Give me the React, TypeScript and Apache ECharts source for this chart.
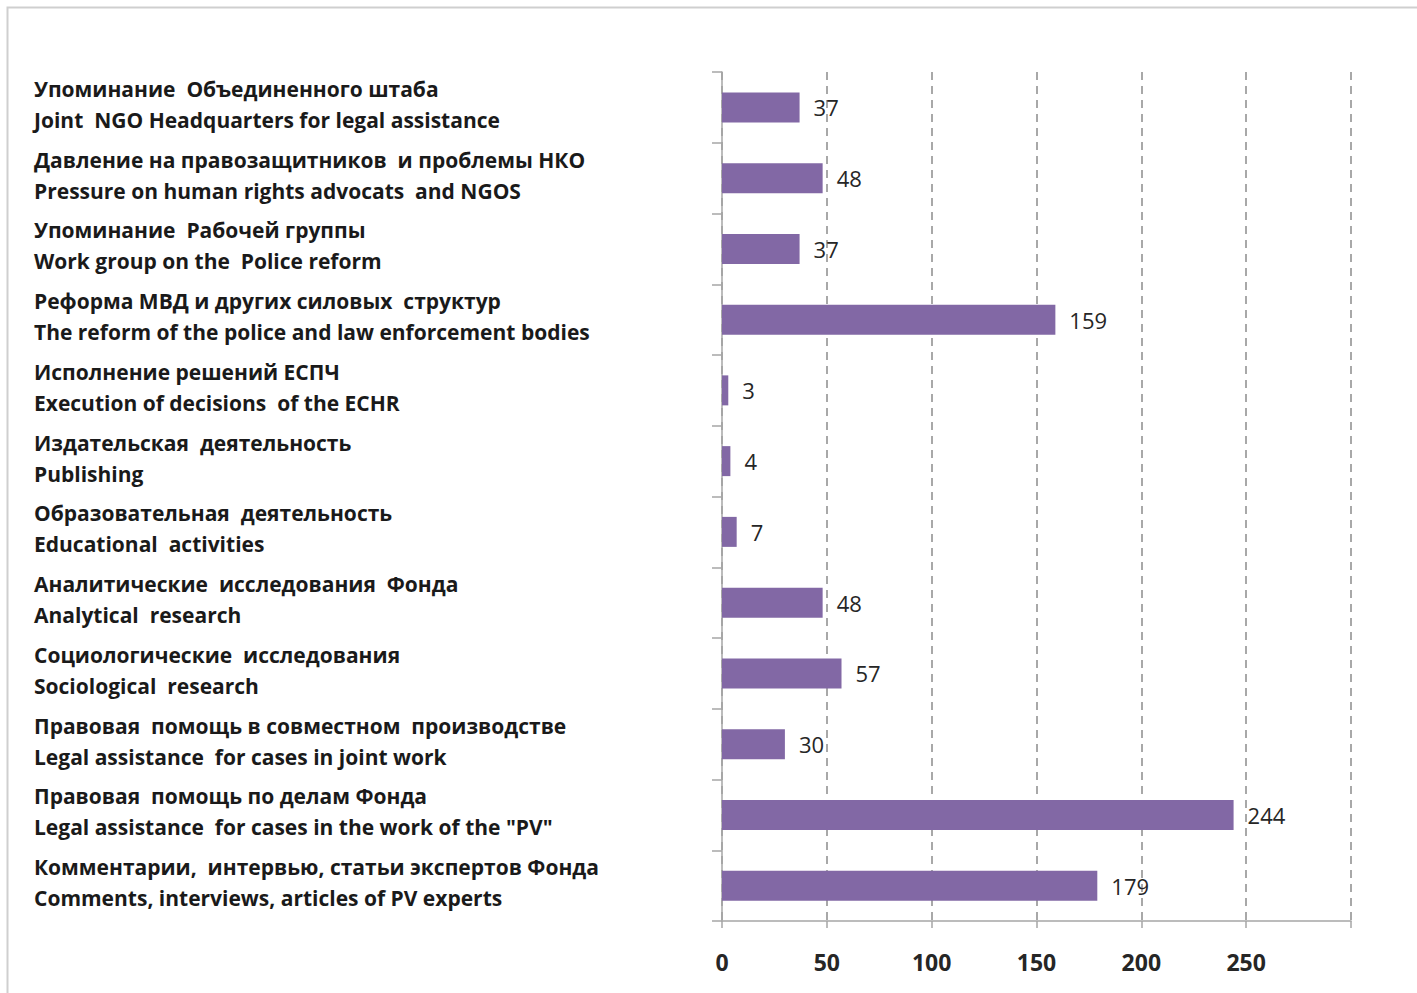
import React, { useEffect, useRef } from "react";
import * as echarts from "echarts";

const categories: string[] = [
  "Упоминание  Объединенного штаба\nJoint  NGO Headquarters for legal assistance",
  "Давление на правозащитников  и проблемы НКО\nPressure on human rights advocats  and NGOS",
  "Упоминание  Рабочей группы\nWork group on the  Police reform",
  "Реформа МВД и других силовых  структур\nThe reform of the police and law enforcement bodies",
  "Исполнение решений ЕСПЧ\nExecution of decisions  of the ECHR",
  "Издательская  деятельность\nPublishing",
  "Образовательная  деятельность\nEducational  activities",
  "Аналитические  исследования  Фонда\nAnalytical  research",
  "Социологические  исследования\nSociological  research",
  "Правовая  помощь в совместном  производстве\nLegal assistance  for cases in joint work",
  "Правовая  помощь по делам Фонда\nLegal assistance  for cases in the work of the \"PV\"",
  "Комментарии,  интервью, статьи экспертов Фонда\nComments, interviews, articles of PV experts",
];

const values: number[] = [37, 48, 37, 159, 3, 4, 7, 48, 57, 30, 244, 179];

const xMin = 0;
const xMax = 300;
const xStep = 50;
const hiddenTickLabels: number[] = [300];

export default function App() {
  const ref = useRef<HTMLDivElement>(null);

  useEffect(() => {
    document.body.style.margin = "0";
    if (!ref.current) return;
    const chart = echarts.init(ref.current, null, { renderer: "svg" });
    const font = "Open Sans";
    chart.setOption({
      animation: false,
      backgroundColor: "#ffffff",
      graphic: [
        {
          type: "polyline",
          shape: { points: [[7.5, 993], [7.5, 7.5], [1417, 7.5]] },
          style: { stroke: "#cfcfcf", lineWidth: 2, fill: "none" },
        },
      ],
      grid: { left: 722, right: 66, top: 72, bottom: 72, containLabel: false },
      xAxis: {
        type: "value",
        min: xMin,
        max: xMax,
        interval: xStep,
        axisLine: { show: true, lineStyle: { color: "#a6a6a6", width: 1.5 } },
        axisTick: { show: true, length: 7, lineStyle: { color: "#a6a6a6", width: 1.5 } },
        axisLabel: {
          margin: 29,
          fontFamily: font,
          fontWeight: "bold",
          fontSize: 23,
          color: "#262626",
          formatter: (v: number) => (hiddenTickLabels.includes(v) ? "" : String(v)),
        },
        splitLine: {
          show: true,
          lineStyle: { color: "#8c8c8c", width: 1.5, type: [8, 6] },
        },
      },
      yAxis: {
        type: "category",
        data: categories,
        inverse: true,
        axisLine: { show: true, lineStyle: { color: "#a6a6a6", width: 1.5 } },
        axisTick: { show: true, length: 10, lineStyle: { color: "#a6a6a6", width: 1.5 } },
        axisLabel: {
          interval: 0,
          showMinLabel: true,
          showMaxLabel: true,
          hideOverlap: false,
          margin: 688,
          align: "left",
          formatter: (v: string) =>
            v
              .split("\n")
              .map((line) => `{t|${line}}`)
              .join("\n") + "\n{s| }",
          rich: {
            t: {
              fontFamily: font,
              fontWeight: "bold",
              fontSize: 21,
              lineHeight: 31,
              color: "#1a1a1a",
              align: "left",
            },
            s: { fontSize: 4, lineHeight: 6 },
          },
        },
      },
      series: [
        {
          type: "bar",
          data: values,
          barWidth: 30,
          itemStyle: { color: "#8268a5" },
          label: {
            show: true,
            position: "right",
            distance: 14,
            fontFamily: font,
            fontSize: 22,
            color: "#262626",
          },
        },
      ],
    });
    return () => chart.dispose();
  }, []);

  return <div ref={ref} style={{ width: 1417, height: 993 }} />;
}
